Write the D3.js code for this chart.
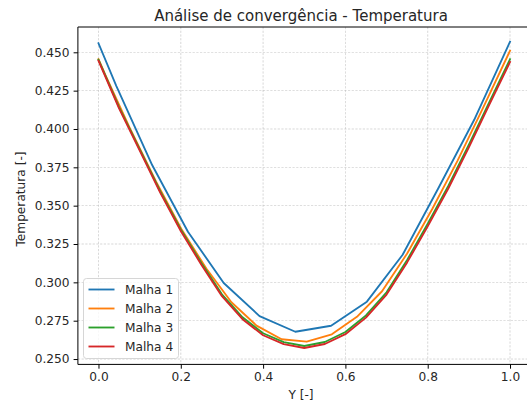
<!DOCTYPE html>
<html><head><meta charset="utf-8">
<script src="https://cdn.jsdelivr.net/npm/d3@7"></script>
<style>
html,body{margin:0;padding:0;background:#fff;}
text{font-family:"DejaVu Sans",sans-serif;fill:#262626;}
</style></head>
<body><svg id="c" width="527" height="408"></svg>
<script>
// ---- data ----
const seriesNames = ["Malha 1", "Malha 2", "Malha 3", "Malha 4"];
const seriesColors = ["#1f77b4", "#ff7f0e", "#2ca02c", "#d62728"];
const xMalha1 = [0, 0.0435, 0.1304, 0.2174, 0.3043, 0.3913, 0.4783, 0.5652, 0.6522, 0.7391, 0.8261, 0.9130, 1.0];
const tMalha1 = [0.4559, 0.4280, 0.3765, 0.3330, 0.2996, 0.2780, 0.2678, 0.2717, 0.2874, 0.3180, 0.3615, 0.4060, 0.4569];
const xMalha2 = [0, 0.018, 0.079, 0.140, 0.201, 0.262, 0.323, 0.384, 0.445, 0.506, 0.567, 0.628, 0.689, 0.750, 0.811, 0.872, 0.933, 0.994, 1.0];
const tMalha2 = [0.4455, 0.4345, 0.3990, 0.3657, 0.3350, 0.3090, 0.2870, 0.2718, 0.2629, 0.2613, 0.2661, 0.2775, 0.2942, 0.3188, 0.3478, 0.3790, 0.4130, 0.4476, 0.4510];
const xMalha34 = [0, 0.05, 0.10, 0.15, 0.20, 0.25, 0.30, 0.35, 0.40, 0.45, 0.50, 0.55, 0.60, 0.65, 0.70, 0.75, 0.80, 0.85, 0.90, 0.95, 1.0];
const tMalha3 = [0.4452, 0.4143, 0.3869, 0.3594, 0.3345, 0.3126, 0.2922, 0.2772, 0.2668, 0.2610, 0.2585, 0.2611, 0.2676, 0.2784, 0.2935, 0.3146, 0.3382, 0.3629, 0.3897, 0.4177, 0.4455];
const tMalha4 = [0.4445, 0.4135, 0.3860, 0.3585, 0.3335, 0.3115, 0.2910, 0.2760, 0.2655, 0.2597, 0.2572, 0.2598, 0.2662, 0.2770, 0.2920, 0.3130, 0.3365, 0.3612, 0.3880, 0.4160, 0.4437];
const xTicks = [0, 0.2, 0.4, 0.6, 0.8, 1.0];
const yTicks = [0.250, 0.275, 0.300, 0.325, 0.350, 0.375, 0.400, 0.425, 0.450];
const titleText = "Análise de convergência - Temperatura";
const xLabel = "Y [-]";
const yLabel = "Temperatura [-]";

const series = [
  {name: seriesNames[0], color: seriesColors[0], xs: xMalha1, ys: tMalha1},
  {name: seriesNames[1], color: seriesColors[1], xs: xMalha2, ys: tMalha2},
  {name: seriesNames[2], color: seriesColors[2], xs: xMalha34, ys: tMalha3},
  {name: seriesNames[3], color: seriesColors[3], xs: xMalha34, ys: tMalha4}
];

// ---- layout ----
const L = 77.9, R = 530.6, T = 27.0, B = 364.4;
const x = d3.scaleLinear().domain([-0.05, 1.05]).range([L, R]);
const y = d3.scaleLinear().domain([0.2465, 0.4665]).range([B, T]);

const svg = d3.select("#c");
svg.append("rect").attr("width", 527).attr("height", 408).attr("fill", "#fff");

// grid
const grid = svg.append("g");
grid.selectAll(".gx").data(xTicks).enter().append("line")
  .attr("x1", d => x(d)).attr("x2", d => x(d)).attr("y1", T).attr("y2", B)
  .attr("stroke", "#b0b0b0").attr("stroke-width", 0.6).attr("stroke-dasharray", "2.2,1.5").attr("opacity", 0.8);
grid.selectAll(".gy").data(yTicks).enter().append("line")
  .attr("y1", d => y(d)).attr("y2", d => y(d)).attr("x1", L).attr("x2", R)
  .attr("stroke", "#b0b0b0").attr("stroke-width", 0.6).attr("stroke-dasharray", "2.2,1.5").attr("opacity", 0.8);

// lines
const line = d3.line().x(d => x(d[0])).y(d => y(d[1]));
series.forEach(s => {
  svg.append("path").datum(s.xs.map((v, i) => [v, s.ys[i]]))
    .attr("d", line).attr("fill", "none").attr("stroke", s.color)
    .attr("stroke-width", 1.85).attr("stroke-linejoin", "round").attr("stroke-linecap", "square");
});

// axes
const xAxis = svg.append("g").attr("transform", `translate(0,${B})`)
  .call(d3.axisBottom(x).tickValues(xTicks).tickFormat(d3.format(".1f")).tickSize(4.3).tickPadding(4));
const yAxis = svg.append("g").attr("transform", `translate(${L},0)`)
  .call(d3.axisLeft(y).tickValues(yTicks).tickFormat(d3.format(".3f")).tickSize(4.3).tickPadding(4));
[xAxis, yAxis].forEach(a => {
  a.select(".domain").remove();
  a.selectAll(".tick line").attr("stroke", "#000").attr("stroke-width", 1);
  a.selectAll(".tick text").attr("font-size", "12.2px").attr("fill", "#262626")
    .attr("font-family", "DejaVu Sans, sans-serif");
});

// spines
const sp = svg.append("g").attr("stroke", "#000").attr("stroke-width", 1).attr("fill", "none");
sp.append("line").attr("x1", L).attr("x2", L).attr("y1", T).attr("y2", B);
sp.append("line").attr("x1", L).attr("x2", R).attr("y1", T).attr("y2", T);
sp.append("line").attr("x1", L).attr("x2", R).attr("y1", B).attr("y2", B);
sp.append("line").attr("x1", R).attr("x2", R).attr("y1", T).attr("y2", B);

// title and labels
svg.append("text").attr("x", 301).attr("y", 20.5).attr("text-anchor", "middle")
  .attr("font-size", "15px").text(titleText);
svg.append("text").attr("x", 301).attr("y", 399).attr("text-anchor", "middle")
  .attr("font-size", "12.2px").text(xLabel);
svg.append("text").attr("transform", "translate(24.5,199) rotate(-90)").attr("text-anchor", "middle")
  .attr("font-size", "12.2px").text(yLabel);

// legend
const lg = svg.append("g");
lg.append("rect").attr("x", 83.5).attr("y", 278.5).attr("width", 95).attr("height", 80)
  .attr("rx", 3).attr("fill", "#fff").attr("fill-opacity", 0.8).attr("stroke", "#d6d6d6").attr("stroke-width", 1);
series.forEach((s, i) => {
  const yy = 289.5 + i * 19;
  lg.append("line").attr("x1", 88.5).attr("x2", 114.5).attr("y1", yy).attr("y2", yy)
    .attr("stroke", s.color).attr("stroke-width", 1.85);
  lg.append("text").attr("x", 125).attr("y", yy + 4.4).attr("font-size", "12.2px").text(s.name);
});
</script></body></html>
